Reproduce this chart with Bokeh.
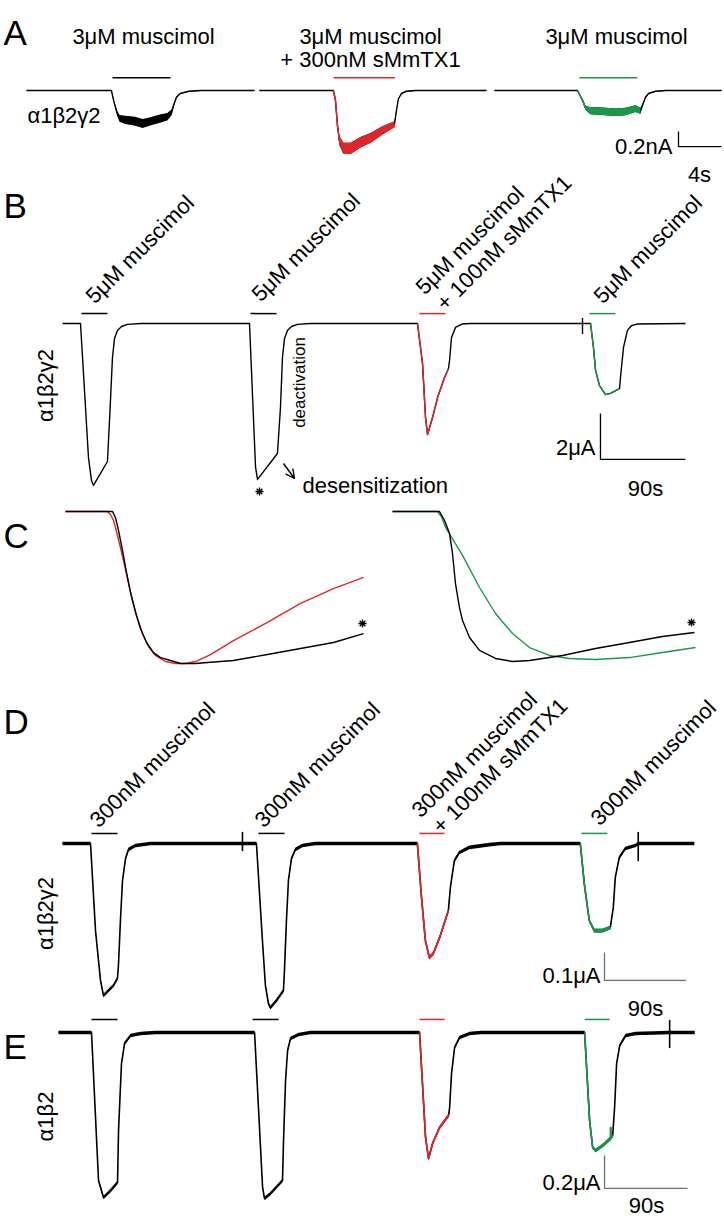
import numpy as np
from bokeh.plotting import figure
from bokeh.models import Range1d, Arrow, OpenHead
from bokeh.core.properties import value
from bokeh.embed import file_html
from bokeh.resources import INLINE

# ---------------- DATA ----------------
# Panel A: three sweeps, time in s, current in nA
a1_t = [0, 7.9, 8.1, 8.4, 8.65, 9.2, 10.1, 10.8, 11.5, 12.5, 13.1, 13.5, 13.7, 13.95, 14.3, 15.1, 16.2, 21.2]
a1_i = [0, 0, -0.13, -0.29, -0.37, -0.39, -0.41, -0.44, -0.41, -0.37, -0.35, -0.29, -0.19, -0.09, -0.04, -0.01, 0, 0]
a1_n = [0.01, 0.01, 0.02, 0.06, 0.09, 0.11, 0.12, 0.12, 0.11, 0.11, 0.1, 0.08, 0.04, 0.02, 0.01, 0.01, 0.01, 0.01]
a2_t = [0, 6.88, 7.07, 7.26, 7.44, 7.81, 8.47, 9.40, 10.33, 11.44, 12.56, 12.74, 12.93, 13.21, 13.67, 14.51, 21.12]
a2_i = [0, 0, -0.13, -0.47, -0.67, -0.77, -0.77, -0.69, -0.63, -0.53, -0.45, -0.27, -0.11, -0.04, -0.01, 0, 0]
a2_n = [0.01, 0.01, 0.03, 0.08, 0.12, 0.15, 0.15, 0.14, 0.13, 0.11, 0.08, 0.04, 0.02, 0.01, 0.01, 0.01, 0.01]
a3_t = [0, 7.72, 8.19, 8.47, 8.93, 9.40, 10.33, 11.26, 12.19, 13.12, 13.58, 13.77, 14.05, 14.33, 14.98, 15.91, 21.12]
a3_i = [0, 0, -0.13, -0.23, -0.27, -0.27, -0.28, -0.29, -0.28, -0.24, -0.27, -0.2, -0.09, -0.04, -0.01, 0, 0]
a3_n = [0.01, 0.01, 0.03, 0.06, 0.09, 0.1, 0.1, 0.1, 0.1, 0.09, 0.08, 0.04, 0.02, 0.01, 0.01, 0.01, 0.01]
a_drug_runs = [None, (6.88, 12.56), (7.72, 13.58)]
a_app_on = [8.0, 6.9, 7.9]
a_app_off = [13.4, 12.6, 13.3]
a_labels = ["3\u03bcM muscimol", "3\u03bcM muscimol", "3\u03bcM muscimol"]
a_label2 = "+ 300nM sMmTX1"
a_scale = (0.2, 4)  # nA, s

# Panel B: continuous recording, time in s, current in uA
b_t = [0, 19.06, 23.3, 27.5, 30.7, 32.8, 47.6, 50.3, 52.9, 55.1, 58.2, 62.5, 68.8, 82.6,
       198.0, 204.4, 206.5, 227.6, 230.8, 232.9, 235.1, 238.2, 242.5, 248.8, 262.6,
       375.9, 381.2, 384.4, 386.5, 391.8, 397.1, 404.5, 408.7, 409.8, 411.9, 416.1, 423.5, 432.0,
       550.6, 550.6, 550.6, 550.6,
       559.1, 562.2, 564.4, 568.6, 575.0, 580.2, 589.8, 590.8, 594.0, 598.2, 602.5, 608.8, 659.6]
b_i = [0, 0, -2.91, -5.83, -6.83, -7.04, -6.0, -3.78, -1.48, -0.65, -0.30, -0.13, -0.04, 0,
       0, -6.26, -6.78, -5.65, -3.65, -1.48, -0.65, -0.30, -0.13, -0.04, 0,
       0, -1.74, -4.09, -4.83, -4.09, -3.22, -2.35, -1.96, -1.61, -0.61, -0.17, -0.02, 0,
       0, 0.22, -0.43, 0,
       0, -1.04, -2.04, -2.70, -3.09, -3.04, -2.83, -2.35, -1.04, -0.30, -0.09, -0.02, 0]
b_drug_runs = [(375.9, 408.7), (559.1, 589.8)]
b_app_on = [20.1, 199.1, 378.0, 558.0]
b_app_off = [47.6, 226.6, 405.5, 585.5]
b_labels = ["5\u03bcM muscimol", "5\u03bcM muscimol", "5\u03bcM muscimol", "5\u03bcM muscimol"]
b_label2 = "+ 100nM sMmTX1"
b_scale = (2, 90)  # uA, s

# Panel C: normalised onset overlays (time in s, current normalised to peak)
cl_black_t = [0, 5.53, 5.88, 6.24, 6.71, 7.18, 7.65, 8.24, 8.82, 9.53, 10.35, 11.18, 12.35, 13.53, 15.29, 16.71, 19.76, 23.76, 27.65, 31.53, 35.06]
cl_black_i = [0, 0, -0.04, -0.125, -0.257, -0.401, -0.533, -0.664, -0.77, -0.862, -0.928, -0.961, -0.98, -1.0, -1.0, -0.993, -0.98, -0.941, -0.901, -0.862, -0.803]
cl_red_t = [0, 4.94, 5.29, 5.65, 6.12, 6.71, 7.29, 7.88, 8.47, 9.06, 9.76, 10.59, 11.76, 12.94, 14.12, 15.29, 17.06, 19.76, 23.76, 27.65, 31.53, 35.06]
cl_red_i = [0, 0, -0.02, -0.059, -0.158, -0.296, -0.441, -0.586, -0.704, -0.803, -0.888, -0.947, -0.987, -1.0, -1.0, -0.987, -0.941, -0.849, -0.730, -0.605, -0.507, -0.434]
cr_black_t = [0, 5.53, 6.12, 6.71, 7.06, 7.41, 7.88, 8.24, 9.06, 10.24, 12.12, 14.12, 16.12, 20.0, 23.88, 27.88, 31.76, 35.53]
cr_black_i = [0, 0, -0.059, -0.145, -0.276, -0.474, -0.632, -0.717, -0.829, -0.914, -0.967, -0.987, -0.980, -0.947, -0.901, -0.862, -0.822, -0.796]
cr_green_t = [0, 5.29, 5.76, 6.24, 8.24, 10.24, 12.12, 14.12, 16.12, 18.47, 20.82, 23.88, 27.88, 31.76, 35.65]
cr_green_i = [0, 0, -0.033, -0.105, -0.289, -0.5, -0.671, -0.803, -0.895, -0.947, -0.967, -0.974, -0.961, -0.928, -0.895]

# Panel D: alpha1beta2gamma2, 300 nM muscimol, time in s, current in uA
d_t = [0, 30.9, 36.4, 41.9, 45.2, 50.7, 56.2, 60.6, 61.7, 63.9, 66.2, 69.5, 72.8, 80.5, 97.0,
       198.5, 198.5, 198.5, 198.5,
       213.9, 220.5, 223.8, 227.1, 229.3, 235.9, 243.7, 244.8, 247.0, 249.2, 252.5, 256.9, 264.6, 278.9,
       391.4, 395.8, 400.2, 404.6, 409.0, 416.7, 425.6, 427.8, 432.2, 437.7, 448.7, 470.8, 482.9,
       571.1, 575.5, 581.0, 586.5, 595.4, 604.2, 607.5, 609.7, 614.1, 620.7, 631.7,
       635.0, 635.0, 635.0, 635.0, 696.8]
d_i = [0, 0, -0.311, -0.489, -0.543, -0.525, -0.507, -0.482, -0.436, -0.275, -0.132, -0.054, -0.021, -0.007, 0,
       0, 0.039, -0.025, 0,
       0, -0.346, -0.507, -0.571, -0.586, -0.561, -0.525, -0.454, -0.275, -0.132, -0.054, -0.021, -0.007, 0,
       0, -0.186, -0.346, -0.407, -0.393, -0.329, -0.239, -0.157, -0.061, -0.032, -0.014, -0.004, 0,
       0, -0.143, -0.275, -0.311, -0.311, -0.3, -0.229, -0.121, -0.05, -0.018, -0.007,
       0, 0.039, -0.061, 0, 0]
d_noise = 0.013
d_drug_runs = [(391.4, 425.6), (571.1, 604.2)]
d_app_on = [32.0, 216.1, 393.6, 572.2]
d_app_off = [60.6, 244.8, 421.2, 600.9]
d_labels = ["300nM muscimol", "300nM muscimol", "300nM muscimol", "300nM muscimol"]
d_label2 = "+ 100nM sMmTX1"
d_scale = (0.1, 90)

# Panel E: alpha1beta2, time in s, current in uA
e_t = [0, 35.8, 43.4, 48.8, 56.4, 64.0, 65.1, 68.3, 71.6, 78.1, 88.9, 105.2,
       212.6, 221.3, 223.4, 229.9, 242.9, 244.0, 246.2, 248.4, 251.6, 260.3, 273.3,
       391.5, 398.0, 401.3, 405.6, 413.2, 423.0, 424.1, 426.2, 429.5, 434.9, 445.8, 457.7,
       570.5, 575.9, 579.2, 582.4, 590.0, 598.7, 598.7, 598.7, 600.9, 603.0, 605.2, 608.5, 615.0, 625.8,
       662.7, 662.7, 662.7, 662.7, 689.8]
e_i = [0, 0, -0.897, -1.0, -0.958, -0.909, -0.594, -0.188, -0.067, -0.018, -0.006, 0,
       0, -0.939, -1.006, -0.976, -0.897, -0.655, -0.291, -0.109, -0.036, -0.012, 0,
       0, -0.636, -0.764, -0.673, -0.576, -0.503, -0.455, -0.248, -0.091, -0.030, -0.006, 0,
       0, -0.533, -0.697, -0.715, -0.685, -0.642, -0.576, -0.642, -0.624, -0.455, -0.188, -0.079, -0.018, -0.006,
       0, 0.073, -0.091, 0, 0]
e_noise = 0.022
e_drug_runs = [(391.5, 423.0), (570.5, 600.9)]
e_app_on = [35.8, 210.4, 391.5, 570.5]
e_app_off = [64.0, 238.6, 418.6, 597.6]
e_scale = (0.2, 90)

# ---------------- LAYOUT / STYLE ----------------
FONT = value("Liberation Sans")
RED = "#e2252b"
GREEN = "#17994a"
GREY = "#707070"
W, H = 724, 1219
# page-pixel frame (the page template has no body margin)
p = figure(width=W, height=H, x_range=Range1d(0, W), y_range=Range1d(H, 0),
           output_backend="svg", toolbar_location=None, min_border=0,
           x_axis_location=None, y_axis_location=None)
p.grid.visible = False
p.outline_line_color = None
p.background_fill_color = "white"
p.border_fill_color = "white"

# panel placement: time origin (page x), px per s, baseline (page y), px per unit current
PANELS = {
    "A": dict(x0=26, kx=10.75, y0=90, ky=75.0),
    "B": dict(x0=62, kx=85 / 90, y0=323, ky=23.0),
    "C": dict(x0=65, kx=8.5, y0=511, ky=152.0),
    "D": dict(x0=62, kx=81.6 / 90, y0=843, ky=280.0),
    "E": dict(x0=58, kx=83 / 90, y0=1032, ky=165.0),
}
for k, c in PANELS.items():
    p.extra_x_ranges["t" + k] = Range1d((0 - c["x0"]) / c["kx"], (W - c["x0"]) / c["kx"])
    p.extra_y_ranges["i" + k] = Range1d((c["y0"] - H) / c["ky"], (c["y0"] - 0) / c["ky"])


def rng(panel):
    return dict(x_range_name="t" + panel, y_range_name="i" + panel)


def trace(panel, t, i, noise=None, offset=0.0, runs=(), lw=1.5, base="black"):
    t = np.asarray(t, float) + offset
    i = np.asarray(i, float)
    if noise is not None:
        n = np.broadcast_to(np.asarray(noise, float), i.shape)

    def draw(mask, color):
        tt, ii = t[mask], i[mask]
        if noise is not None:
            nn = n[mask]
            p.varea(x=tt, y1=ii - nn / 2, y2=ii + nn / 2, fill_color=color, **rng(panel))
        p.line(tt, ii, line_color=color, line_width=lw, line_join="round", **rng(panel))

    draw(np.ones(len(t), bool), base)
    for run in runs:
        if run is None:
            continue
        ts, te, col = run
        m = (t >= ts + offset - 1e-6) & (t <= te + offset + 1e-6)
        draw(m, col)


def bars(panel, on, off, level, colors, offsets=None):
    on = np.asarray(on, float)
    off = np.asarray(off, float)
    if offsets is not None:
        on = on + np.asarray(offsets)
        off = off + np.asarray(offsets)
    p.segment(x0=on, y0=[level] * len(on), x1=off, y1=[level] * len(on),
              line_color=colors, line_width=1.5, **rng(panel))


def scalebar(panel, t0, i0, amp, dur, color="black"):
    p.line([t0, t0, t0 + dur], [i0 + amp, i0, i0], line_color=color, line_width=1.3, **rng(panel))


def txt(xs, ys, texts, size="22px", align="left", baseline="alphabetic", angle=0.0, color="black"):
    p.text(x=xs, y=ys, text=texts, text_font=FONT, text_font_size=size, text_align=align,
           text_baseline=baseline, angle=angle, text_color=color)


# ---- Panel A ----
A_OFF = [0.0, 21.67, 43.53]
trace("A", a1_t, a1_i, a1_n, A_OFF[0], lw=1.4)
trace("A", a2_t, a2_i, a2_n, A_OFF[1], runs=[(a_drug_runs[1][0], a_drug_runs[1][1], RED)], lw=1.4)
trace("A", a3_t, a3_i, a3_n, A_OFF[2], runs=[(a_drug_runs[2][0], a_drug_runs[2][1], GREEN)], lw=1.4)
bars("A", a_app_on, a_app_off, 0.17, ["black", RED, GREEN], offsets=A_OFF)
scalebar("A", 60.65, -0.747, a_scale[0], a_scale[1])
txt([143, 370, 616], [36, 36, 36], a_labels, align="center")
txt([370], [59], [a_label2], align="center")
txt([27], [115], ["\u03b11\u03b22\u03b32"])
txt([672], [146], ["%.1fnA" % a_scale[0]], align="right")
txt([699], [174], ["%ds" % a_scale[1]], align="center")

# ---- Panel B ----
trace("B", b_t, b_i, None, runs=[(b_drug_runs[0][0], b_drug_runs[0][1], RED),
                                 (b_drug_runs[1][0], b_drug_runs[1][1], GREEN)], lw=1.4)
bars("B", b_app_on, b_app_off, 0.43, ["black", "black", RED, GREEN])
scalebar("B", 569.6, -5.91, b_scale[0], b_scale[1])
ang = np.pi / 4
txt([89, 255, 419, 597], [299, 297, 290, 299], b_labels, angle=ang)
txt([439.5], [306], [b_label2], angle=ang)
txt([45], [385], ["\u03b11\u03b22\u03b32"], align="center", baseline="middle", angle=np.pi / 2)
txt([299], [382], ["deactivation"], size="17px", align="center", baseline="middle", angle=np.pi / 2)
txt([302], [485], ["desensitization"])
p.add_layout(Arrow(end=OpenHead(size=9, line_width=1.4), x_start=283, y_start=463, x_end=294, y_end=478,
                   line_width=1.4))
p.scatter([259], [491], marker="asterisk", size=8, line_color="black", line_width=1.3)
txt([595], [447], ["%d\u03bcA" % b_scale[0]], align="right")
txt([645], [488], ["%ds" % b_scale[1]], align="center")

# ---- Panel C ----
C_OFF = [0.0, 38.47]
trace("C", cl_red_t, cl_red_i, None, C_OFF[0], lw=1.4, base=RED)
trace("C", cl_black_t, cl_black_i, None, C_OFF[0], lw=1.4)
trace("C", cr_green_t, cr_green_i, None, C_OFF[1], lw=1.4, base=GREEN)
trace("C", cr_black_t, cr_black_i, None, C_OFF[1], lw=1.4)
p.scatter([362, 691], [623, 622], marker="asterisk", size=8, line_color="black", line_width=1.3)

# ---- Panel D ----
trace("D", d_t, d_i, d_noise, runs=[(d_drug_runs[0][0], d_drug_runs[0][1], RED),
                                    (d_drug_runs[1][0], d_drug_runs[1][1], GREEN)], lw=1.6)
bars("D", d_app_on, d_app_off, 0.036, ["black", "black", RED, GREEN])
scalebar("D", 597.8, -0.489, d_scale[0], d_scale[1], color=GREY)
txt([93, 258, 415, 594], [823, 823, 813, 821], d_labels, angle=ang)
txt([435.5], [829], [d_label2], angle=ang)
txt([45], [913], ["\u03b11\u03b22\u03b32"], align="center", baseline="middle", angle=np.pi / 2)
txt([600], [975], ["%.1f\u03bcA" % d_scale[0]], align="right")
txt([645], [1008], ["%ds" % d_scale[1]], align="center")

# ---- Panel E ----
trace("E", e_t, e_i, e_noise, runs=[(e_drug_runs[0][0], e_drug_runs[0][1], RED),
                                    (e_drug_runs[1][0], e_drug_runs[1][1], GREEN)], lw=1.6)
bars("E", e_app_on, e_app_off, 0.079, ["black", "black", RED, GREEN])
scalebar("E", 592.1, -0.945, e_scale[0], e_scale[1], color=GREY)
txt([45], [1116], ["\u03b11\u03b22"], align="center", baseline="middle", angle=np.pi / 2)
txt([600], [1182], ["%.1f\u03bcA" % e_scale[0]], align="right")
txt([646], [1205], ["%ds" % e_scale[1]], align="center")

# ---- panel letters ----
txt([3, 3, 3, 3, 3], [32, 205, 535, 721, 1046], ["A", "B", "C", "D", "E"], size="35px")

open("out.html", "w").write(file_html(p, INLINE))
